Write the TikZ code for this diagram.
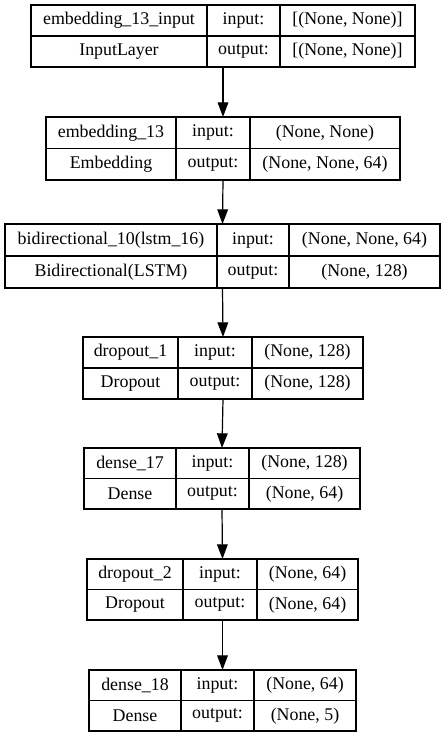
\documentclass[tikz,border=0pt]{standalone}
\usepackage{fontspec}
\newfontfamily\layerfont{LiberationSerif-Regular.ttf}
\usetikzlibrary{arrows.meta}

% Shapes shown in the right column of the next layer box
\newcommand{\setshapes}[2]{\def\layerin{#1}\def\layerout{#2}}

% Layer box: name, left, right, top, bottom, divider 1, divider 2,
% layer name, layer class
\newcommand{\layerbox}[9]{%
  \node[layer, minimum width={(#3-#2)*0.75pt}, minimum height={(#5-#4)*0.75pt}]
    (#1) at ({(#2+#3)/2},{(#4+#5)/2}) {};
  \draw[rule] (#2,{(#4+#5)/2}) -- (#3,{(#4+#5)/2});
  \draw[rule] (#6,#4) -- (#6,#5);
  \draw[rule] (#7,#4) -- (#7,#5);
  \node[cell] (#1-name)  at ({(#2+#6)/2},{(3*#4+#5)/4}) {#8};
  \node[cell] (#1-class) at ({(#2+#6)/2},{(#4+3*#5)/4}) {#9};
  \node[cell] (#1-inl)   at ({(#6+#7)/2},{(3*#4+#5)/4}) {input:};
  \node[cell] (#1-outl)  at ({(#6+#7)/2},{(#4+3*#5)/4}) {output:};
  \node[cell] (#1-in)    at ({(#7+#3)/2},{(3*#4+#5)/4}) {\layerin};
  \node[cell] (#1-out)   at ({(#7+#3)/2},{(#4+3*#5)/4}) {\layerout};
}

\begin{document}
\begin{tikzpicture}[x=0.75pt, y=-0.75pt,
  layer/.style={draw=black, line width=0.9pt, rectangle, inner sep=0pt, outer sep=0pt},
  rule/.style={draw=black, line width=0.9pt},
  cell/.style={inner sep=0pt, font=\layerfont\fontsize{13.4}{16}\selectfont},
  flow/.style={draw=black, line width=0.9pt, -{Triangle[length=11pt, width=8pt]}}]

\useasboundingbox (0,0) rectangle (445,737);

\setshapes{[(None, None)]}{[(None, None)]}
\layerbox{l1}{31}{415}{5}{67}{207}{280}{embedding\_13\_input}{InputLayer}
\setshapes{(None, None)}{(None, None, 64)}
\layerbox{l2}{46}{400}{117}{180}{176}{250}{embedding\_13}{Embedding}
\setshapes{(None, None, 64)}{(None, 128)}
\layerbox{l3}{5}{440}{224}{288}{217}{289}{bidirectional\_10(lstm\_16)}{Bidirectional(LSTM)}
\setshapes{(None, 128)}{(None, 128)}
\layerbox{l4}{83}{363}{337}{399}{178}{252}{dropout\_1}{Dropout}
\setshapes{(None, 128)}{(None, 64)}
\layerbox{l5}{84}{360}{448}{509}{176}{249}{dense\_17}{Dense}
\setshapes{(None, 64)}{(None, 64)}
\layerbox{l6}{87}{358}{559}{620}{183}{257}{dropout\_2}{Dropout}
\setshapes{(None, 64)}{(None, 5)}
\layerbox{l7}{89}{356}{670}{731}{181}{254}{dense\_18}{Dense}

\draw[flow] (l1.south) -- (l2.north);
\draw[flow] (l2.south) -- (l3.north);
\draw[flow] (l3.south) -- (l4.north);
\draw[flow] (l4.south) -- (l5.north);
\draw[flow] (l5.south) -- (l6.north);
\draw[flow] (l6.south) -- (l7.north);
\end{tikzpicture}
\end{document}
